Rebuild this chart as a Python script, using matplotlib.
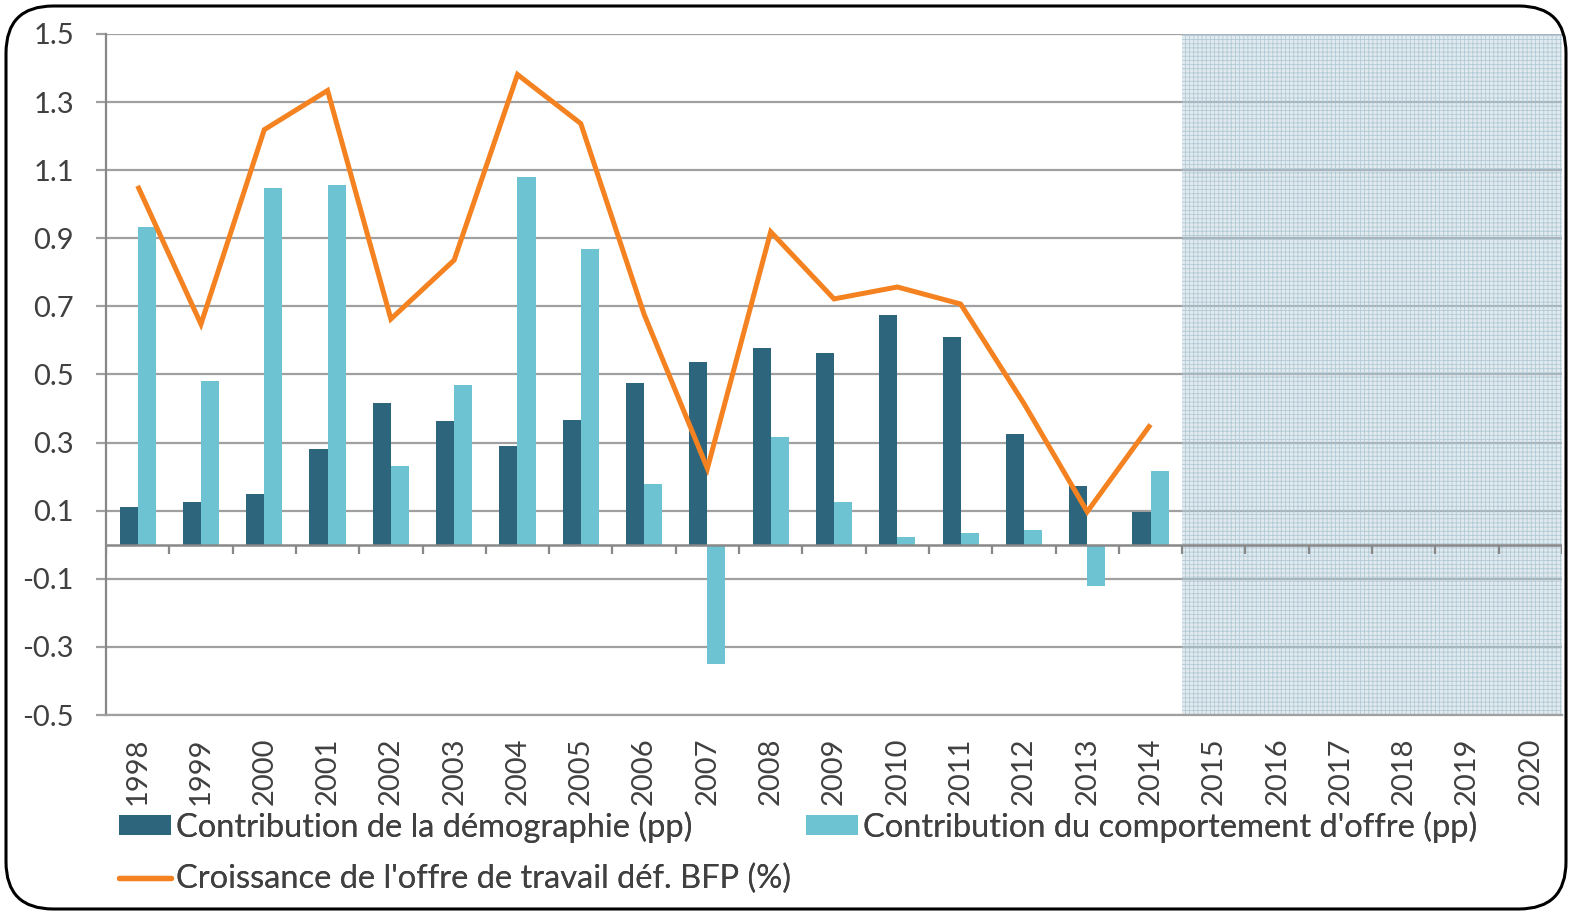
import matplotlib
matplotlib.use("Agg")
import matplotlib.pyplot as plt
from matplotlib.patches import FancyBboxPatch, Patch
from matplotlib.lines import Line2D
import numpy as np

plt.rcParams['font.family'] = ['Lato', 'DejaVu Sans']
plt.rcParams['hatch.linewidth'] = 0.6

years = [str(y) for y in range(1998, 2021)]
demographie = [0.11, 0.127, 0.15, 0.28, 0.415, 0.362, 0.289, 0.365, 0.474, 0.536,
               0.577, 0.563, 0.675, 0.61, 0.324, 0.174, 0.097]
comportement = [0.934, 0.48, 1.049, 1.057, 0.23, 0.468, 1.081, 0.869, 0.177, -0.35,
                0.315, 0.127, 0.024, 0.035, 0.044, -0.121, 0.218]
croissance = [1.054, 0.648, 1.219, 1.334, 0.663, 0.836, 1.381, 1.237, 0.677, 0.224,
              0.919, 0.722, 0.757, 0.707, 0.415, 0.097, 0.353]
yticks = [-0.5, -0.3, -0.1, 0.1, 0.3, 0.5, 0.7, 0.9, 1.1, 1.3, 1.5]
forecast_start = "2015"

lab_demo = "Contribution de la démographie (pp)"
lab_comp = "Contribution du comportement d'offre (pp)"
lab_croiss = "Croissance de l'offre de travail déf. BFP (%)"

c_dark = '#2d667c'
c_light = '#6ec3d3'
c_orange = '#f58220'
c_grid = '#a0a0a0'
c_text = '#404040'

W, H = 1574, 913
fig = plt.figure(figsize=(W / 100, H / 100), dpi=100)

ax = fig.add_axes([106 / W, 1 - 715 / H, 1456 / W, 681 / H])
ax.set_facecolor('none')

n = len(years)
x = np.arange(n)
nd = len(demographie)
bw = 0.286

ax.set_xlim(-0.5, n - 0.5)
ax.set_ylim(-0.5, 1.5)

for yv in yticks:
    ax.axhline(yv, color=c_grid, linewidth=1.6, zorder=1)

fs = years.index(forecast_start)
ax.axvspan(fs - 0.5, n - 0.5, facecolor=(0.72, 0.81, 0.86, 0.42),
           edgecolor=(0.64, 0.75, 0.81, 0.75), hatch='++++', linewidth=0, zorder=2)

ax.bar(x[:nd] - bw / 2, demographie, width=bw, color=c_dark, zorder=3)
ax.bar(x[:nd] + bw / 2, comportement, width=bw, color=c_light, zorder=3)
ax.plot(x[:nd], croissance, color=c_orange, linewidth=3.6, zorder=4,
        solid_joinstyle='miter', solid_capstyle='butt')

# zero axis with boundary ticks
ax.axhline(0, color='#888888', linewidth=1.8, zorder=5)
bounds = np.arange(n + 1) - 0.5
ax.vlines(bounds, -0.028, 0, color='#888888', linewidth=1.6, zorder=5)

for s in ['top', 'right']:
    ax.spines[s].set_visible(False)
ax.spines['left'].set_color('#888888')
ax.spines['left'].set_linewidth(1.6)
ax.spines['bottom'].set_color(c_grid)
ax.spines['bottom'].set_linewidth(1.6)

ax.set_yticks(yticks)
ax.set_yticklabels([f"{v:.1f}" for v in yticks])
ax.tick_params(axis='y', length=7, width=1.6, color=c_grid, pad=16,
               labelsize=21, labelcolor=c_text)
ax.set_xticks(x)
ax.set_xticklabels(years, rotation=90)
ax.tick_params(axis='x', length=0, pad=16, labelsize=21, labelcolor=c_text)

entries = [
    (Patch(facecolor=c_dark, edgecolor='none'), lab_demo, 119, 827),
    (Patch(facecolor=c_light, edgecolor='none'), lab_comp, 806, 827),
    (Line2D([0], [0], color=c_orange, linewidth=3.8, solid_capstyle='round'),
     lab_croiss, 119, 879),
]
for h, lab, px, py in entries:
    leg = fig.legend([h], [lab], loc='center left',
                     bbox_to_anchor=(px / W, 1 - py / H), frameon=False,
                     fontsize=23.5, handlelength=1.6, handleheight=0.55,
                     handletextpad=0.15, borderpad=0, borderaxespad=0)
    for t in leg.get_texts():
        t.set_color(c_text)
    fig.add_artist(leg)

# rounded frame
frame = FancyBboxPatch((6 / W, 4 / H), 1560 / W, 903 / H,
                       boxstyle="round,pad=0,rounding_size=0.03",
                       transform=fig.transFigure, facecolor='none',
                       edgecolor='black', linewidth=2.2,
                       mutation_aspect=W / H, zorder=10)
fig.patches.append(frame)

fig.savefig('out.png', dpi=100)
